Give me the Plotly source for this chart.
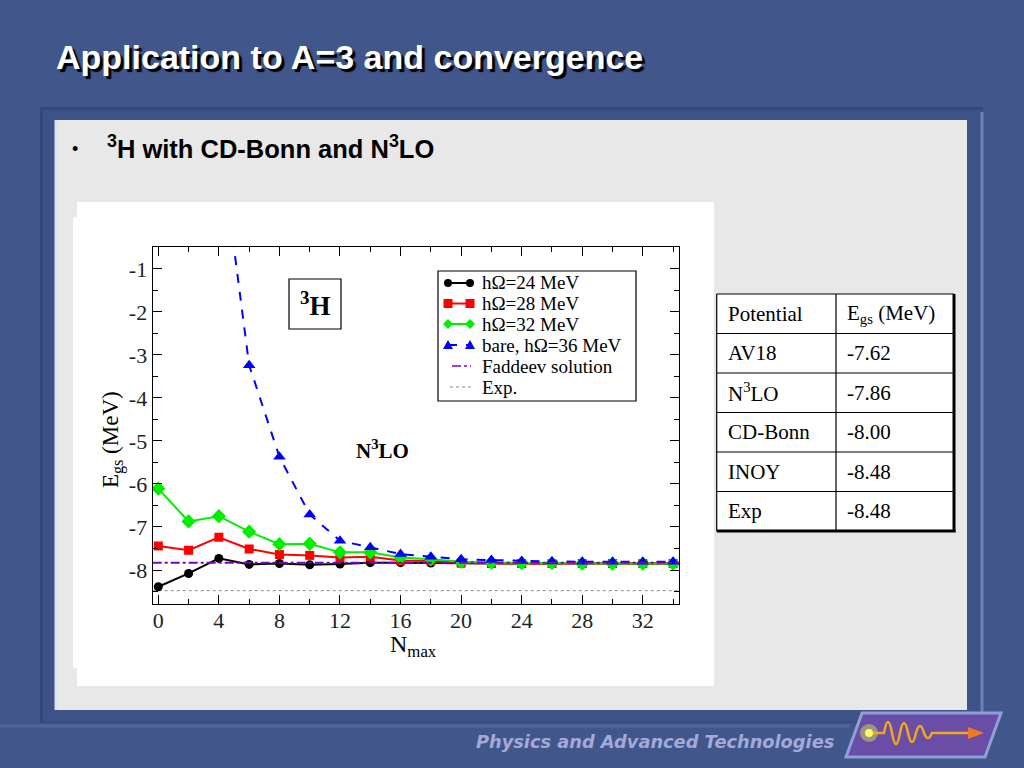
import plotly.graph_objects as go

# ---------------- data ----------------
N_MAX = [0, 2, 4, 6, 8, 10, 12, 14, 16, 18, 20, 22, 24, 26, 28, 30, 32, 34]
E_HW24 = [-8.39, -8.08, -7.73, -7.87, -7.85, -7.88, -7.86, -7.83, -7.83,
          -7.84, -7.85, -7.85, -7.85, -7.85, -7.85, -7.85, -7.85, -7.85]
E_HW28 = [-7.44, -7.54, -7.24, -7.51, -7.64, -7.66, -7.71, -7.69, -7.78,
          -7.79, -7.84, -7.85, -7.85, -7.85, -7.85, -7.85, -7.85, -7.85]
E_HW32 = [-6.11, -6.87, -6.75, -7.11, -7.40, -7.39, -7.59, -7.59, -7.71,
          -7.75, -7.81, -7.83, -7.84, -7.84, -7.85, -7.85, -7.85, -7.85]
N_MAX_BARE = [4, 6, 8, 10, 12, 14, 16, 18, 20, 22, 24, 26, 28, 30, 32, 34]
E_BARE36 = [2.2, -3.24, -5.37, -6.71, -7.32, -7.47, -7.63, -7.69, -7.75,
            -7.77, -7.79, -7.80, -7.81, -7.81, -7.81, -7.81]
E_FADDEEV = -7.83
E_EXP = -8.48

X_TICKS = [0, 4, 8, 12, 16, 20, 24, 28, 32]
X_TICK_TEXT = ["0", "4", "8", "12", "16", "20", "24", "28", "32"]
Y_TICKS = [-1, -2, -3, -4, -5, -6, -7, -8]
Y_TICK_TEXT = ["-1", "-2", "-3", "-4", "-5", "-6", "-7", "-8"]
X_RANGE = [-0.37, 34.41]
Y_RANGE = [-8.79, -0.5]

LEGEND_LABELS = ["hΩ=24 MeV", "hΩ=28 MeV", "hΩ=32 MeV", "bare, hΩ=36 MeV",
                 "Faddeev solution", "Exp."]

TABLE_HEADER = ["Potential", "E<sub>gs</sub> (MeV)"]
TABLE_POTENTIALS = ["AV18", "N<sup>3</sup>LO", "CD-Bonn", "INOY", "Exp"]
TABLE_EGS = ["-7.62", "-7.86", "-8.00", "-8.48", "-8.48"]

TITLE = "Application to A=3 and convergence"
BULLET = "<sup>3</sup>H with CD-Bonn and N<sup>3</sup>LO"
FOOTER = "Physics and Advanced Technologies"

# ---------------- helpers ----------------
W, H = 1024, 768


def px(x):
    return x / W


def py(y):
    return 1 - y / H


SERIF = "Liberation Serif, Times New Roman, serif"
SANS = "Liberation Sans, Arial, sans-serif"

shapes = []
annotations = []


def rect(x0, y0, x1, y1, fill=None, line_color=None, line_width=0, layer="below"):
    shapes.append(dict(type="rect", xref="paper", yref="paper",
                       x0=px(x0), x1=px(x1), y0=py(y1), y1=py(y0),
                       fillcolor=fill if fill else "rgba(0,0,0,0)",
                       line=dict(color=line_color if line_color else "rgba(0,0,0,0)",
                                 width=line_width),
                       layer=layer))


def seg(x0, y0, x1, y1, color, width=1, dash="solid", layer="above"):
    shapes.append(dict(type="line", xref="paper", yref="paper",
                       x0=px(x0), x1=px(x1), y0=py(y0), y1=py(y1),
                       line=dict(color=color, width=width, dash=dash), layer=layer))


def text(x, y, s, size, color="black", family=SERIF, xanchor="left",
         yanchor="middle", angle=0, shadow=None):
    font = dict(size=size, color=color, family=family)
    if shadow:
        font["shadow"] = shadow
    annotations.append(dict(xref="paper", yref="paper", x=px(x), y=py(y),
                            text=s, showarrow=False, xanchor=xanchor,
                            yanchor=yanchor, textangle=angle, font=font))


# ---------------- slide background ----------------
rect(40, 107, 983, 723, fill="#33477A")
rect(43, 110, 983, 722, fill="#3D5288")
seg(982, 112, 982, 714, "#6D80B6", 3, layer="below")
seg(0, 726, 850, 726, "#52659C", 3, layer="below")
rect(55, 120, 967, 710, fill="#E8E8E8")
seg(56, 120, 56, 710, "#DCE2F2", 3, layer="below")
# white chart picture
rect(77, 202, 714, 686, fill="white")
rect(73, 217, 78, 668, fill="white")

# ---------------- title and bullet ----------------
text(54, 57, "<b>" + TITLE + "</b>", 34, color="white", family=SANS,
     shadow="3px 3px 1px black")
text(70, 149, "•", 18, family=SANS)
text(105, 147, "<b>" + BULLET + "</b>", 25.5, family=SANS)

# ---------------- footer ----------------
text(836, 741, "<b><i>" + FOOTER + "</i></b>", 17.8, color="#A3A9D8",
     family="DejaVu Sans, Verdana, sans-serif", xanchor="right")
shapes.append(dict(type="path", xref="paper", yref="paper",
                   path="M {} {} L {} {} L {} {} L {} {} Z".format(
                       px(862), py(713), px(1001), py(713),
                       px(985), py(757), px(846), py(757)),
                   fillcolor="#6A4DA6", line=dict(color="#8FA0D8", width=3),
                   layer="below"))
shapes.append(dict(type="circle", xref="paper", yref="paper",
                   x0=px(860), x1=px(878), y0=py(742), y1=py(724),
                   fillcolor="rgba(240,255,80,0.40)", line=dict(width=0),
                   layer="above"))
shapes.append(dict(type="circle", xref="paper", yref="paper",
                   x0=px(865), x1=px(873), y0=py(737), y1=py(729),
                   fillcolor="#F6FF60", line=dict(width=0), layer="above"))
amp = [11, 11, 10, 9, 7, 5]
xs = 884
parts = ["M {} {} L {} {}".format(px(873), py(733), px(884), py(733))]
sign = -1
for a in amp:
    parts.append("Q {} {} {} {}".format(px(xs + 4), py(733 + sign * a * 2),
                                         px(xs + 8), py(733)))
    xs += 8
    sign = -sign
parts.append("L {} {}".format(px(972), py(733)))
shapes.append(dict(type="path", xref="paper", yref="paper", path=" ".join(parts),
                   line=dict(color="#F2A81E", width=2.5), layer="above"))
shapes.append(dict(type="path", xref="paper", yref="paper",
                   path="M {} {} L {} {} L {} {} Z".format(
                       px(968), py(727), px(984), py(733), px(968), py(739)),
                   fillcolor="#F07A20", line=dict(width=0), layer="above"))

# ---------------- table ----------------
col_x = [716.7, 836, 954]
row_y = [294, 333.5, 373, 412.5, 452, 491.5, 531]
rect(col_x[0], row_y[0], col_x[2], row_y[-1], fill="white", layer="below")
for yy in row_y[:-1]:
    seg(col_x[0], yy, col_x[2], yy, "black", 1.2)
for xx in col_x[:-1]:
    seg(xx, row_y[0], xx, row_y[-1], "black", 1.2)
seg(col_x[2], row_y[0], col_x[2], row_y[-1] + 1, "black", 3)
seg(col_x[0], row_y[-1], col_x[2] + 1.5, row_y[-1], "black", 3)
rows = [TABLE_HEADER] + [[p, e] for p, e in zip(TABLE_POTENTIALS, TABLE_EGS)]
for i, (a, b) in enumerate(rows):
    yc = (row_y[i] + row_y[i + 1]) / 2
    text(col_x[0] + 9, yc, a, 21)
    text(col_x[1] + 9, yc, b, 21)

# ---------------- chart inset labels ----------------
rect(289, 279, 341, 329, line_color="black", line_width=1.2, layer="above")
text(315, 304, "<b><sup>3</sup>H</b>", 27, xanchor="center")
text(382, 449, "<b>N<sup>3</sup>LO</b>", 21, xanchor="center")
text(112, 440, "E<sub>gs</sub> (MeV)", 23, angle=-90, xanchor="center")
text(413, 646, "N<sub>max</sub>", 24, xanchor="center")

# ---------------- legend (drawn by hand) ----------------
rect(438, 271, 636, 401, fill="white", line_color="black", line_width=1.2,
     layer="above")
leg_y = [283, 303.5, 324, 345, 366, 387]
leg_colors = ["black", "#FF0000", "#00EE00", "#0000FF", "#7F00BF", "#888888"]
leg_dash = ["solid", "solid", "solid", "dash", "dashdot", "dot"]
for i, yy in enumerate(leg_y):
    if i < 4:
        seg(448, yy, 470, yy, leg_colors[i], 2, leg_dash[i])
    elif i == 4:
        seg(452, yy, 471, yy, leg_colors[i], 1.5, "dashdot")
    else:
        seg(450, yy, 471, yy, leg_colors[i], 1, "dot")
    text(480, yy, LEGEND_LABELS[i], 19)
for xx in (448, 470):
    yy = leg_y[0]
    shapes.append(dict(type="circle", xref="paper", yref="paper",
                       x0=px(xx - 4), x1=px(xx + 4), y0=py(yy + 4), y1=py(yy - 4),
                       fillcolor="black", line=dict(width=0), layer="above"))
    yy = leg_y[1]
    rect(xx - 4.5, yy - 4.5, xx + 4.5, yy + 4.5, fill="#FF0000", layer="above")
    yy = leg_y[2]
    shapes.append(dict(type="path", xref="paper", yref="paper",
                       path="M {} {} L {} {} L {} {} L {} {} Z".format(
                           px(xx - 5), py(yy), px(xx), py(yy - 5),
                           px(xx + 5), py(yy), px(xx), py(yy + 5)),
                       fillcolor="#00EE00", line=dict(width=0), layer="above"))
    yy = leg_y[3]
    shapes.append(dict(type="path", xref="paper", yref="paper",
                       path="M {} {} L {} {} L {} {} Z".format(
                           px(xx - 5), py(yy + 4), px(xx), py(yy - 5),
                           px(xx + 5), py(yy + 4)),
                       fillcolor="#0000FF", line=dict(width=0), layer="above"))

# ---------------- traces ----------------
fig = go.Figure()
fig.add_trace(go.Scatter(x=X_RANGE, y=[E_EXP, E_EXP], mode="lines",
                         line=dict(color="#888888", width=1, dash="dot"),
                         showlegend=False, hoverinfo="skip"))
fig.add_trace(go.Scatter(x=N_MAX, y=E_HW24, mode="lines+markers",
                         line=dict(color="black", width=2),
                         marker=dict(symbol="circle", size=9, color="black"),
                         showlegend=False))
fig.add_trace(go.Scatter(x=N_MAX, y=E_HW28, mode="lines+markers",
                         line=dict(color="#FF0000", width=2),
                         marker=dict(symbol="square", size=9, color="#FF0000"),
                         showlegend=False))
fig.add_trace(go.Scatter(x=N_MAX, y=E_HW32, mode="lines+markers",
                         line=dict(color="#00EE00", width=2),
                         marker=dict(symbol="diamond", size=11, color="#00EE00"),
                         showlegend=False))
fig.add_trace(go.Scatter(x=N_MAX_BARE, y=E_BARE36, mode="lines+markers",
                         line=dict(color="#0000FF", width=2, dash="dash"),
                         marker=dict(symbol="triangle-up", size=11, color="#0000FF"),
                         showlegend=False))
fig.add_trace(go.Scatter(x=X_RANGE, y=[E_FADDEEV, E_FADDEEV], mode="lines",
                         line=dict(color="#7F00BF", width=2, dash="dashdot"),
                         showlegend=False, hoverinfo="skip"))

axis_common = dict(showline=True, linecolor="black", linewidth=1.3,
                   mirror="allticks", ticks="inside", ticklen=9,
                   tickcolor="black", tickwidth=1.3, showgrid=False,
                   zeroline=False,
                   tickfont=dict(family=SERIF, size=22, color="#222222"))

fig.update_layout(
    width=W, height=H,
    margin=dict(l=0, r=0, t=0, b=0),
    paper_bgcolor="#41568B",
    plot_bgcolor="white",
    showlegend=False,
    xaxis=dict(domain=[px(152.7), px(679.3)], range=X_RANGE,
               tickvals=X_TICKS, ticktext=X_TICK_TEXT,
               ticklabelstandoff=-4,
               minor=dict(dtick=2, tick0=0, ticks="inside", ticklen=5,
                          tickcolor="black", tickwidth=1.2),
               **axis_common),
    yaxis=dict(domain=[py(604), py(247.3)], range=Y_RANGE,
               tickvals=Y_TICKS, ticktext=Y_TICK_TEXT,
               minor=dict(dtick=0.5, tick0=0, ticks="inside", ticklen=5,
                          tickcolor="black", tickwidth=1.2),
               **axis_common),
    shapes=shapes,
    annotations=annotations,
)

fig.write_html("out.html",
               config={"displayModeBar": False},
               post_script="document.body.style.margin='0';"
                           "document.body.style.overflow='hidden';"
                           "document.body.style.background='#41568B';")
